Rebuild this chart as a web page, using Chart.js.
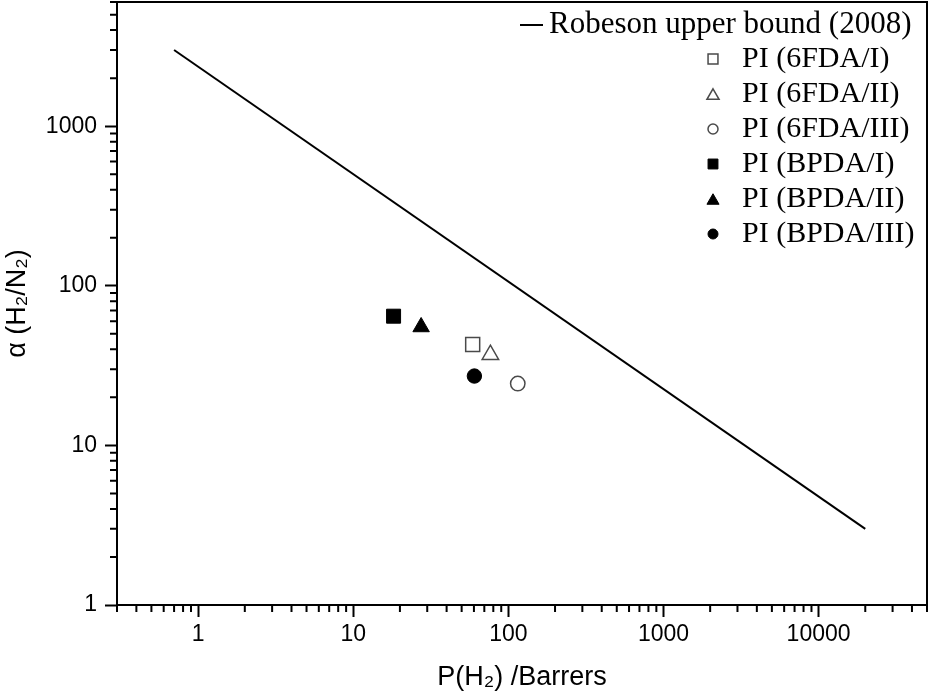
<!DOCTYPE html>
<html lang="en">
<head>
<meta charset="UTF-8">
<title>H2/N2 upper bound plot</title>
<script src="https://cdn.jsdelivr.net/npm/chart.js@4.4.0/dist/chart.umd.min.js"></script>
<style>
  body { margin: 0; background: #fff; }
  canvas { display: block; }
</style>
</head>
<body>
<canvas id="myChart" width="930" height="695"></canvas>
<script>
// Robeson upper bound (2008), end points
const boundP = [0.7, 20000];
const boundAlpha = [3000, 3];

// polyimide membranes, one point each
const seriesNames = ['PI (6FDA/I)', 'PI (6FDA/II)', 'PI (6FDA/III)', 'PI (BPDA/I)', 'PI (BPDA/II)', 'PI (BPDA/III)'];
const pH2 = [58.9, 76.6, 115, 18.2, 27.4, 60.4];
const alphaH2N2 = [42.9, 37.0, 24.4, 64.5, 55.2, 27.2];

// labelled axis ticks
const xTicks = [1, 10, 100, 1000, 10000];
const yTicks = [1, 10, 100, 1000];

// marker look for each series
const shapes = ['rect', 'triangle', 'circle', 'rect', 'triangle', 'circle'];
const filled = [false, false, false, true, true, true];
const markerSize = { rect: 9.9, triangle: 9.5, circle: 7.2 };
const legendSize = { rect: 7, triangle: 7, circle: 5 };

const openColor = '#4a4a4a';

//======================================================
// draws the outline of a marker, using Chart.js helper when there
function drawMarker(ctx, style, r, x, y) {
    if (Chart.helpers && Chart.helpers.drawPoint) {
        Chart.helpers.drawPoint(ctx, { pointStyle: style, radius: r, borderWidth: ctx.lineWidth, rotation: 0 }, x, y);
        return;
    }
    ctx.beginPath();
    if (style === 'rect') {
        const s = r * Math.SQRT1_2;
        ctx.rect(x - s, y - s, 2 * s, 2 * s);
    } else if (style === 'triangle') {
        ctx.moveTo(x, y - r);
        ctx.lineTo(x + r * Math.sin(2 * Math.PI / 3), y + r / 2);
        ctx.lineTo(x - r * Math.sin(2 * Math.PI / 3), y + r / 2);
        ctx.closePath();
    } else {
        ctx.arc(x, y, r, 0, Math.PI * 2);
    }
    ctx.fill();
    ctx.stroke();
}

// short minor ticks on both log axes + box round the plot
const minorTicks = {
    id: 'minorTicks',
    afterDraw(chart) {
        const { ctx, chartArea: area, scales: { x, y } } = chart;
        ctx.save();
        ctx.strokeStyle = '#000';
        ctx.lineWidth = 2;
        ctx.beginPath();
        for (let e = -1; e <= 4; e++) {
            for (let k = 2; k <= 9; k++) {
                const v = k * Math.pow(10, e);
                if (v < x.min * 0.999 || v > x.max * 1.001) continue;
                const px = x.getPixelForValue(v);
                ctx.moveTo(px, area.bottom);
                ctx.lineTo(px, area.bottom + 7);
            }
        }
        for (let e = 0; e <= 3; e++) {
            for (let k = 2; k <= 9; k++) {
                const v = k * Math.pow(10, e);
                if (v < y.min * 0.999 || v > y.max * 1.001) continue;
                const py = y.getPixelForValue(v);
                ctx.moveTo(area.left, py);
                ctx.lineTo(area.left - 7, py);
            }
        }
        ctx.stroke();
        ctx.strokeRect(area.left, area.top, area.right - area.left, area.bottom - area.top);
        ctx.restore();
    }
};

// legend in the top right corner of the plot
const cornerLegend = {
    id: 'cornerLegend',
    afterDraw(chart) {
        const ctx = chart.ctx;
        const sets = chart.data.datasets;
        ctx.save();
        ctx.textBaseline = 'middle';
        ctx.fillStyle = '#000';
        ctx.strokeStyle = '#000';
        ctx.lineWidth = 2;
        ctx.beginPath();
        ctx.moveTo(520, 25);
        ctx.lineTo(543, 25);
        ctx.stroke();
        ctx.font = '31px "Liberation Serif"';
        ctx.fillText(sets[0].label, 549, 25);

        ctx.font = '30px "Liberation Serif"';
        sets.slice(1).forEach((ds, i) => {
            const y = 59 + i * 35;
            const r = legendSize[ds.pointStyle];
            const dy = ds.pointStyle === 'triangle' ? r / 4 : 0;
            ctx.save();
            ctx.fillStyle = ds.backgroundColor;
            ctx.strokeStyle = ds.borderColor;
            ctx.lineWidth = ds.borderWidth;
            drawMarker(ctx, ds.pointStyle, r, 713, y + dy);
            ctx.restore();
            ctx.fillText(ds.label, 742, y);
        });
        ctx.restore();
    }
};

//======================================================
const datasets = [{
    label: 'Robeson upper bound (2008)',
    data: boundP.map((p, i) => ({ x: p, y: boundAlpha[i] })),
    showLine: true,
    borderColor: '#000',
    borderWidth: 2,
    pointRadius: 0
}];

seriesNames.forEach((name, i) => {
    datasets.push({
        label: name,
        data: [{ x: pH2[i], y: alphaH2N2[i] }],
        pointStyle: shapes[i],
        pointRadius: markerSize[shapes[i]],
        backgroundColor: filled[i] ? '#000' : '#fff',
        borderColor: filled[i] ? '#000' : openColor,
        borderWidth: filled[i] ? 1 : 1.5
    });
});

const tickFont = { family: '"Liberation Sans", Arial, sans-serif', size: 23 };

const ctx = document.getElementById('myChart').getContext('2d');
const myChart = new Chart(ctx, {
    type: 'scatter',
    data: { datasets: datasets },
    plugins: [minorTicks, cornerLegend],
    options: {
        responsive: false,
        animation: false,
        events: [],
        layout: { autoPadding: false, padding: { top: 2, right: 3, left: 0, bottom: 0 } },
        plugins: {
            legend: { display: false },
            tooltip: { enabled: false }
        },
        scales: {
            x: {
                type: 'logarithmic',
                position: 'bottom',
                min: 0.3,
                max: 50000,
                afterBuildTicks: (scale) => { scale.ticks = xTicks.map(v => ({ value: v })); },
                afterFit: (scale) => { scale.height = 90; scale.paddingLeft = 0; scale.paddingRight = 0; },
                ticks: {
                    color: '#000',
                    font: tickFont,
                    padding: 4,
                    maxRotation: 0,
                    autoSkip: false,
                    callback: (v) => String(v)
                },
                grid: { drawOnChartArea: false, drawTicks: true, tickLength: 12, tickWidth: 2, tickColor: '#000' },
                border: { display: true, color: '#000', width: 2 },
                title: {
                    display: true,
                    text: 'P(H₂) /Barrers',
                    color: '#000',
                    font: { family: '"Liberation Sans", Arial, sans-serif', size: 27 },
                    padding: { top: 0, bottom: 1 }
                }
            },
            y: {
                type: 'logarithmic',
                position: 'left',
                min: 1,
                max: 6000,
                afterBuildTicks: (scale) => { scale.ticks = yTicks.map(v => ({ value: v })); },
                afterFit: (scale) => { scale.width = 117; scale.paddingTop = 0; scale.paddingBottom = 0; },
                ticks: {
                    color: '#000',
                    font: tickFont,
                    padding: 8,
                    autoSkip: false,
                    callback: (v) => String(v)
                },
                grid: { drawOnChartArea: false, drawTicks: true, tickLength: 12, tickWidth: 2, tickColor: '#000' },
                border: { display: true, color: '#000', width: 2 },
                title: {
                    display: true,
                    text: 'α (H₂/N₂)',
                    color: '#000',
                    font: { family: '"Liberation Sans", Arial, sans-serif', size: 27 },
                    padding: { top: 1, bottom: 0 }
                }
            }
        }
    }
});
</script>
</body>
</html>
